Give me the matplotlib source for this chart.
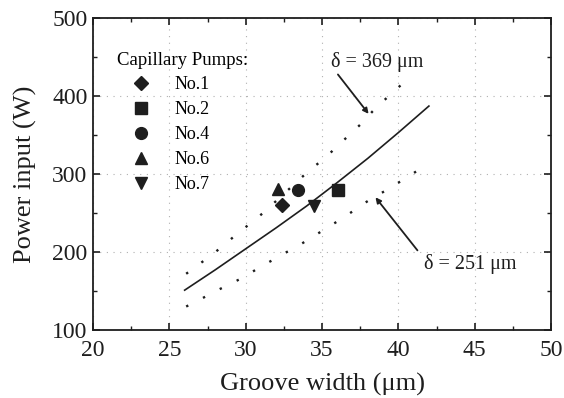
import matplotlib
matplotlib.use("Agg")
import matplotlib.pyplot as plt
from matplotlib.ticker import MultipleLocator

plt.rcParams['font.family'] = ['Liberation Serif', 'DejaVu Serif']
plt.rcParams['mathtext.fontset'] = 'stix'

# Model curve (solid)
model_x = [26, 28, 30, 32, 34, 36, 38, 40, 42]
model_y = [151, 177, 204, 231, 259, 289, 320, 353, 387]

# delta = 369 um (upper dotted)
upper_x = [26.1, 27.0, 27.9, 28.7, 29.55, 30.4, 31.2, 34.3, 35.2, 36.0, 36.8, 37.6, 38.3, 39.1, 39.9, 40.65]
upper_y = [172, 185, 198, 211, 225, 238, 251, 307, 320, 336, 350, 365, 380, 395, 409, 423]

# delta = 251 um (lower dotted)
lower_x = [26.1, 27.1, 28.05, 29.0, 30.0, 30.8, 31.8, 32.7, 33.7, 34.6, 35.5, 36.4, 37.3, 38.2, 39.2, 40.1, 41.0, 41.9]
lower_y = [130, 140, 150, 159, 169, 179, 190, 200, 211, 222, 233, 244, 256, 268, 279, 290, 301, 313]

# Capillary pumps data
pump_names = ['No.1', 'No.2', 'No.4', 'No.6', 'No.7']
pump_x = [32.36, 36.07, 33.45, 32.1, 34.48]
pump_y = [260, 279.5, 279.5, 281, 259]
pump_markers = ['D', 's', 'o', '^', 'v']
pump_sizes = [6.8, 8, 8.5, 9, 9]

ink = '#1e1e1e'

fig = plt.figure(figsize=(5.64, 3.98), dpi=100)
ax = fig.add_axes([0.165, 0.171, 0.812, 0.784])

ax.plot(model_x, model_y, color=ink, lw=1.2)
ax.plot(upper_x, upper_y, color=ink, lw=1.7, ls=(0, (1, 7)))
ax.plot(lower_x, lower_y, color=ink, lw=1.7, ls=(0, (1, 7)))

handles = []
for n, x, y, m, s in zip(pump_names, pump_x, pump_y, pump_markers, pump_sizes):
    h, = ax.plot([x], [y], ls='none', marker=m, color=ink, ms=s, label=n)
    handles.append(h)

ax.set_xlim(20, 50)
ax.set_ylim(100, 500)
ax.xaxis.set_major_locator(MultipleLocator(5))
ax.xaxis.set_minor_locator(MultipleLocator(2.5))
ax.yaxis.set_major_locator(MultipleLocator(100))
ax.yaxis.set_minor_locator(MultipleLocator(50))
ax.tick_params(which='both', direction='in', top=True, right=True, labelsize=17, colors=ink)
ax.tick_params(which='major', length=5, width=1.2)
ax.tick_params(which='minor', length=3, width=1.0)
ax.tick_params(axis='x', pad=7)
ax.tick_params(axis='y', pad=4)
ax.grid(True, which='major', ls=(0, (1, 5)), color='#b0b0b0', lw=0.8)
for s in ax.spines.values():
    s.set_color(ink)
    s.set_linewidth(1.3)

ax.set_xlabel('Groove width (\u03bcm)', fontsize=19, color=ink, labelpad=9)
ax.set_ylabel('Power input (W)', fontsize=19, color=ink, labelpad=11)

leg = ax.legend(handles=handles, loc='upper left', title='Capillary Pumps:', frameon=False,
                fontsize=13, title_fontsize=13.5, handletextpad=0.55, labelspacing=0.44,
                handlelength=2.66, bbox_to_anchor=(0.0285, 0.927), borderaxespad=0.2)
leg._legend_box.align = 'left'

ax.text(38.6, 443, '\u03b4 = 369 \u03bcm', fontsize=14.5, ha='center', va='center', color=ink)
ax.annotate('', xy=(38.05, 377), xytext=(36.04, 427.5),
            arrowprops=dict(arrowstyle='-|>', color=ink, lw=1.3, mutation_scale=8,
                            shrinkA=0, shrinkB=0))
ax.text(44.7, 185, '\u03b4 = 251 \u03bcm', fontsize=14.5, ha='center', va='center', color=ink)
ax.annotate('', xy=(38.5, 270), xytext=(41.25, 202),
            arrowprops=dict(arrowstyle='-|>', color=ink, lw=1.3, mutation_scale=8,
                            shrinkA=0, shrinkB=0))

fig.savefig('out.png', dpi=100)
